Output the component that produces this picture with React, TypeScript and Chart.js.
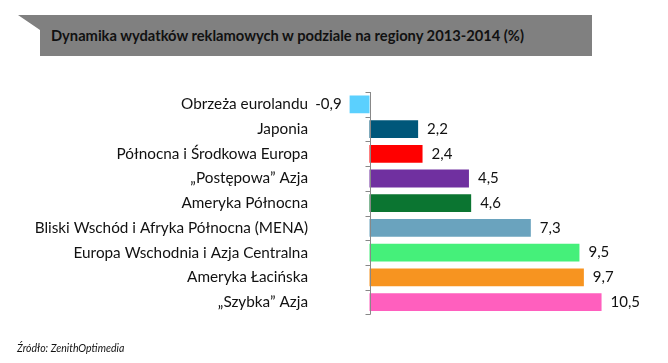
import React, { useEffect, useRef } from "react";
import { Chart, registerables } from "chart.js";
Chart.register(...registerables);

const titleText = "Dynamika wydatków reklamowych w podziale na regiony 2013-2014 (%)";
const sourceText = "Źródło: ZenithOptimedia";
const categories = [
  "Obrzeża eurolandu",
  "Japonia",
  "Północna i Środkowa Europa",
  "\u201EPostępowa\u201D Azja",
  "Ameryka Północna",
  "Bliski Wschód i Afryka Północna (MENA)",
  "Europa Wschodnia i Azja Centralna",
  "Ameryka Łacińska",
  "\u201ESzybka\u201D Azja",
];
const values = [-0.9, 2.2, 2.4, 4.5, 4.6, 7.3, 9.5, 9.7, 10.5];
const barColors = [
  "#5BD0FE",
  "#00577A",
  "#FF0000",
  "#7030A0",
  "#0B7531",
  "#6AA3BE",
  "#45F07A",
  "#F79420",
  "#FF5FBE",
];
const xMin = -1;
const xMax = 12;

const fmt = (v: number) => v.toFixed(1).replace(".", ",");

const zeroAxisPlugin = {
  id: "zeroAxis",
  afterDatasetsDraw(chart: any) {
    const { ctx, scales } = chart;
    const x = scales.x;
    const y = scales.y;
    const x0 = Math.round(x.getPixelForValue(0)) + 0.5;
    ctx.save();
    ctx.strokeStyle = "#888888";
    ctx.lineWidth = 1;
    ctx.beginPath();
    ctx.moveTo(x0, y.top);
    ctx.lineTo(x0, y.bottom);
    for (let i = 0; i <= categories.length; i++) {
      const yy = Math.round(y.getPixelForValue(i - 0.5)) + 0.5;
      ctx.moveTo(x0 - 5, yy);
      ctx.lineTo(x0, yy);
    }
    ctx.stroke();
    const meta = chart.getDatasetMeta(0);
    ctx.font = "15px Lato";
    ctx.fillStyle = "#111111";
    ctx.textBaseline = "middle";
    meta.data.forEach((bar: any, i: number) => {
      const v = values[i];
      const p = bar.getProps(["x", "y"], true);
      if (v < 0) {
        ctx.textAlign = "right";
        ctx.fillText(fmt(v), p.x - 8, p.y);
      } else {
        ctx.textAlign = "left";
        ctx.fillText(fmt(v), p.x + 9, p.y);
      }
    });
    ctx.restore();
  },
};

export default function App() {
  const canvasRef = useRef<HTMLCanvasElement | null>(null);

  useEffect(() => {
    if (!canvasRef.current) return;
    const chart = new Chart(canvasRef.current, {
      type: "bar",
      data: {
        labels: categories,
        datasets: [
          {
            data: values,
            backgroundColor: barColors,
            borderWidth: 0,
            barPercentage: 0.72,
            categoryPercentage: 1,
          },
        ],
      },
      options: {
        indexAxis: "y",
        responsive: false,
        animation: false,
        layout: { padding: { top: 92, bottom: 39, right: 33.3, left: 0 } },
        plugins: {
          legend: { display: false },
          tooltip: { enabled: false },
          title: { display: false },
        },
        scales: {
          x: { type: "linear", min: xMin, max: xMax, display: false },
          y: {
            type: "category",
            grid: { display: false, drawTicks: false },
            border: { display: false },
            ticks: {
              color: "#111111",
              font: { family: "Lato", size: 15.3 },
              padding: 39.4,
              autoSkip: false,
            },
            afterFit: (s: any) => {
              s.width = 347.4;
            },
          },
        },
      },
      plugins: [zeroAxisPlugin],
    });
    return () => chart.destroy();
  }, []);

  return (
    <div style={{ position: "absolute", left: 0, top: 0, width: 668, height: 363, background: "#fff" }}>
      <div
        style={{
          position: "absolute",
          left: 18,
          top: 15,
          width: 574,
          height: 41,
          background: "#808080",
          clipPath: "polygon(0 0, 100% 0, 100% 100%, 22px 100%, 22px 15px)",
        }}
      />
      <div
        style={{
          position: "absolute",
          left: 51,
          top: 15,
          height: 41,
          lineHeight: "41px",
          fontFamily: "Lato",
          fontWeight: 700,
          fontSize: 14.7,
          color: "#111",
          whiteSpace: "nowrap",
        }}
      >
        {titleText}
      </div>
      <canvas ref={canvasRef} width={668} height={363} style={{ position: "absolute", left: 0, top: 0 }} />
      <div
        style={{
          position: "absolute",
          left: 17,
          top: 341,
          fontFamily: "Lato",
          fontStyle: "italic",
          fontSize: 10.5,
          lineHeight: "14px",
          color: "#111",
          whiteSpace: "nowrap",
        }}
      >
        {sourceText}
      </div>
    </div>
  );
}
